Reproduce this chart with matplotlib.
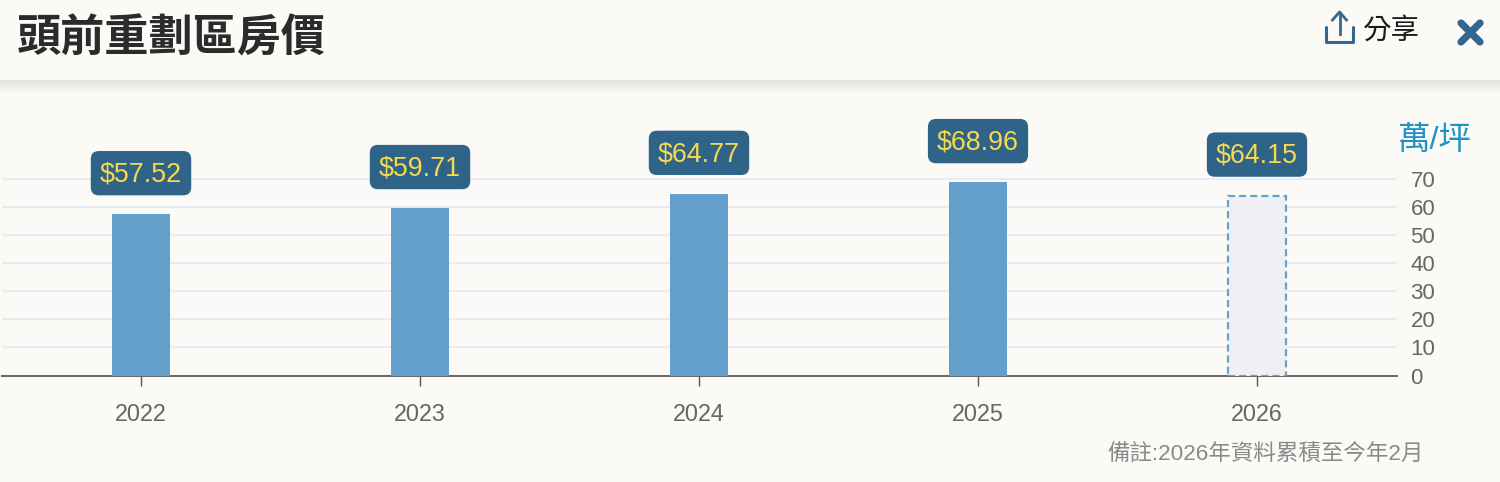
import matplotlib
matplotlib.use("Agg")
import matplotlib.pyplot as plt
from matplotlib.patches import Rectangle

years = ["2022", "2023", "2024", "2025", "2026"]
prices = [57.52, 59.71, 64.77, 68.96, 64.15]
y_ticks = [0, 10, 20, 30, 40, 50, 60, 70]

W, H = 1500, 482
BG = "#FCFAF6"
cjk = ["Noto Sans CJK TC", "DejaVu Sans"]
latin = ["Liberation Sans", "Noto Sans CJK TC"]

fig = plt.figure(figsize=(W / 100, H / 100), dpi=100, facecolor=BG)

# overlay in pixel coords for the header bits
top = fig.add_axes([0, 0, 1, 1])
top.set_xlim(0, W)
top.set_ylim(H, 0)
top.axis("off")

for i, c in enumerate(["#E6E4E0", "#E6E4E0", "#E8E6E2", "#EBE9E5", "#EFEDE9", "#F3F1ED", "#F6F4F0", "#F9F7F3"]):
    top.add_patch(Rectangle((0, 79.5 + i * 1.6), W, 1.7, fc=c, ec="none"))

top.text(17, 38.5, "頭前重劃區房價", family=cjk, fontsize=31.8, fontweight="bold",
         color="#2B2B2B", va="center", ha="left")
top.text(1363, 31, "分享", family=cjk, fontsize=20.5, color="#1A1A1A", va="center", ha="left")

# share icon
blue = "#32678F"
top.plot([1326, 1326, 1353, 1353], [27, 42, 42, 27], color=blue, lw=2.2, solid_capstyle="round")
top.plot([1339.5, 1339.5], [13, 34], color=blue, lw=2)
top.plot([1332.5, 1339.5, 1346.5], [20, 12, 20], color=blue, lw=2)
# close icon
top.plot([1461, 1480], [23, 42], color=blue, lw=5.2, solid_capstyle="round")
top.plot([1480, 1461], [23, 42], color=blue, lw=5.2, solid_capstyle="round")

top.text(1397, 141, "萬/坪", family=latin, fontsize=23.4, color="#1E93C4", va="center", ha="left")
top.text(1424, 454, "備註:2026年資料累積至今年2月", family=latin, fontsize=16.2,
         color="#8A8A8A", va="center", ha="right")

# chart area, left/bottom/width/height from pixels
ax = fig.add_axes([1.5 / W, (H - 375.5) / H, 1395 / W, 330 / H])
ax.patch.set_alpha(0)
x = list(range(len(years)))
for i in x:
    if years[i] == "2026":
        ax.bar(i, prices[i], width=0.208, color="#EEF0F3", edgecolor="#66A3CC",
               linewidth=1.6, linestyle=(0, (3.2, 1.8)), zorder=3)
    else:
        ax.bar(i, prices[i], width=0.208, color="#64A0CB", zorder=3)
    # box and label drawn apart so the digits sit in the middle of the box
    ax.annotate(f"${prices[i]:.2f}", (i, prices[i]), xytext=(0, 29.5), textcoords="offset points",
                ha="center", va="center", family=latin, fontsize=19.4, color="none", zorder=5,
                bbox=dict(boxstyle="round,pad=0.34,rounding_size=0.3", fc="#2F6488", ec="none"))
    ax.annotate(f"${prices[i]:.2f}", (i, prices[i]), xytext=(0, 28.6), textcoords="offset points",
                ha="center", va="center", family=latin, fontsize=19.4, color="#F5D94E", zorder=6)

ax.set_xlim(-0.5, 4.5)
ax.set_ylim(0, 330 / 2.805)
ax.set_xticks(x)
ax.set_xticklabels(years, family=latin, fontsize=16.8, color="#666666")
ax.yaxis.tick_right()
ax.set_yticks(y_ticks)
ax.set_yticklabels([str(v) for v in y_ticks], family=latin, fontsize=16, color="#666666")
ax.tick_params(axis="y", length=0, pad=10)
ax.tick_params(axis="x", length=7, width=1, color="#555555", pad=13)
ax.grid(axis="y", color="#E8EBF1", lw=1.5, zorder=0)
ax.set_axisbelow(True)
for s in ["top", "left", "right"]:
    ax.spines[s].set_visible(False)
ax.spines["bottom"].set_color("#666666")
ax.spines["bottom"].set_linewidth(1.4)

fig.savefig("out.png", dpi=100, facecolor=BG)
